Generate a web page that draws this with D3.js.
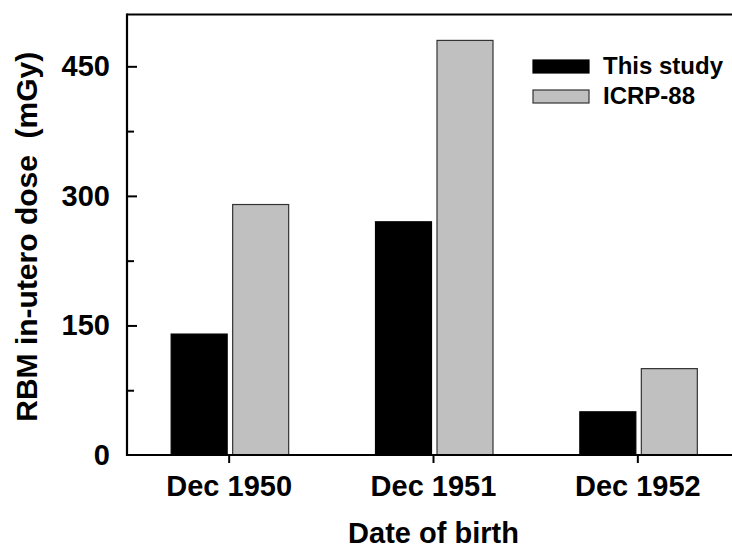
<!DOCTYPE html>
<html><head><meta charset="utf-8">
<script src="https://cdn.jsdelivr.net/npm/d3@7"></script>
<style>
body{margin:0;background:#fff;}
svg{display:block;font-family:"Liberation Sans",Arial,sans-serif;font-weight:bold;}
</style></head>
<body>
<svg id="chart" width="732" height="551"></svg>
<script>
const categories = ["Dec 1950", "Dec 1951", "Dec 1952"];
const seriesNames = ["This study", "ICRP-88"];
const thisStudy = [140, 270, 50];
const icrp88 = [290, 480, 100];
const majorTicks = [0, 150, 300, 450];
const minorTicks = [75, 225, 375];
const seriesColors = ["#000000", "#c0c0c0"];

const svg = d3.select("#chart");
const mLeft = 127, mRight = 740, mTop = 14.5, mBottom = 455;

const x = d3.scaleBand().domain(categories).range([mLeft, mRight]).padding(0);
const xs = d3.scaleBand().domain(seriesNames).range([-58, 59.5]).paddingInner(5.5/61.5).paddingOuter(0);
const y = d3.scaleLinear().domain([0, 510]).range([mBottom, mTop]);

const data = categories.map((c, i) => ({cat: c, values: [
  {s: seriesNames[0], v: thisStudy[i], color: seriesColors[0]},
  {s: seriesNames[1], v: icrp88[i], color: seriesColors[1]}
]}));

// bars
const g = svg.append("g");
data.forEach(d => {
  const cx = x(d.cat) + x.bandwidth()/2;
  d.values.forEach(b => {
    g.append("rect")
      .attr("x", cx + xs(b.s))
      .attr("y", y(b.v))
      .attr("width", xs.bandwidth())
      .attr("height", y(0) - y(b.v))
      .attr("fill", b.color)
      .attr("stroke", b.s === "ICRP-88" ? "#333" : "#000")
      .attr("stroke-width", 1.2);
  });
});

// y axis
const yAxis = svg.append("g").attr("transform", `translate(${mLeft},0)`)
  .call(d3.axisLeft(y).tickValues(majorTicks).tickSize(-10).tickPadding(17).tickSizeOuter(0));
yAxis.select(".domain").remove();
yAxis.selectAll(".tick line").attr("stroke", "#000").attr("stroke-width", 2);
yAxis.selectAll(".tick text").attr("font-size", 29).attr("font-family", null).attr("fill", "#000");
yAxis.selectAll(".tick").filter(d => d === 0).select("line").remove();
svg.append("g").attr("transform", `translate(${mLeft},0)`)
  .call(d3.axisLeft(y).tickValues(minorTicks).tickSize(-7).tickFormat("").tickSizeOuter(0))
  .call(s => s.select(".domain").remove())
  .selectAll(".tick line").attr("stroke", "#000").attr("stroke-width", 2);

// x axis
const xAxis = svg.append("g").attr("transform", `translate(0,${mBottom})`)
  .call(d3.axisBottom(x).tickSize(8).tickPadding(12).tickSizeOuter(0));
xAxis.select(".domain").remove();
xAxis.selectAll(".tick line").attr("stroke", "#000").attr("stroke-width", 2);
xAxis.selectAll(".tick text").attr("font-size", 29).attr("font-family", null).attr("fill", "#000");

// frame lines
svg.append("line").attr("x1", mLeft).attr("x2", 732).attr("y1", mBottom).attr("y2", mBottom).attr("stroke", "#000").attr("stroke-width", 2.2);
svg.append("line").attr("x1", mLeft).attr("x2", 732).attr("y1", mTop).attr("y2", mTop).attr("stroke", "#000").attr("stroke-width", 2.2);
svg.append("line").attr("x1", mLeft).attr("x2", mLeft).attr("y1", mTop - 1).attr("y2", mBottom + 1).attr("stroke", "#000").attr("stroke-width", 2.2);

// axis titles
svg.append("text")
  .attr("transform", `translate(37,${(mTop + mBottom)/2 + 2}) rotate(-90)`)
  .attr("text-anchor", "middle").attr("font-size", 30)
  .style("white-space", "pre")
  .text("RBM in-utero dose  (mGy)");
svg.append("text")
  .attr("x", x(categories[1]) + x.bandwidth()/2).attr("y", 543)
  .attr("text-anchor", "middle").attr("font-size", 29)
  .text("Date of birth");

// legend
const legend = svg.append("g");
seriesNames.forEach((s, i) => {
  legend.append("rect").attr("x", 533).attr("y", 60 + i*30).attr("width", 56).attr("height", 13)
    .attr("fill", seriesColors[i]).attr("stroke", i === 1 ? "#333" : "#000").attr("stroke-width", 1.2);
  legend.append("text").attr("x", 603).attr("y", 74 + i*30).attr("font-size", 24).text(s);
});
</script>
</body></html>
